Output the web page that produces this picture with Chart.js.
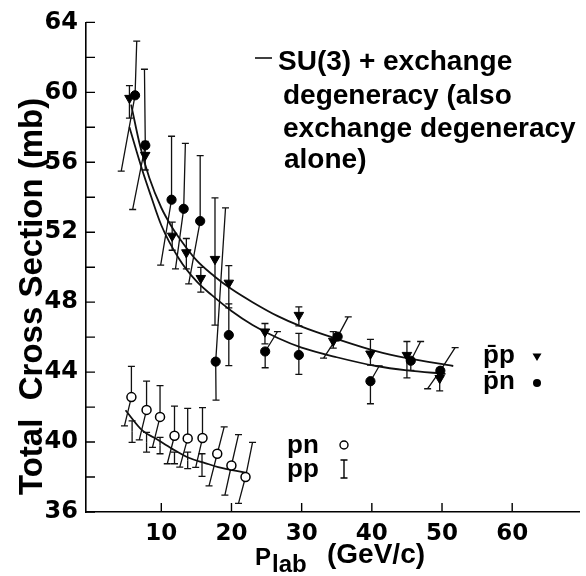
<!DOCTYPE html>
<html>
<head>
<meta charset="utf-8">
<script src="https://cdn.jsdelivr.net/npm/chart.js@4.4.0/dist/chart.umd.min.js"></script>
<style>
  html, body { margin: 0; padding: 0; background: #fff; }
  canvas { display: block; }
</style>
</head>
<body>
<canvas id="xsecChart" width="586" height="576"></canvas>
<script>
// pbar-p, filled triangles, vertical error bars
const pbarpX  = [5.46, 7.71, 11.55, 13.57, 15.63, 17.65, 19.62, 24.77, 29.6, 34.5, 39.8, 45.0, 49.67];
const pbarpY  = [59.67, 56.41, 51.79, 50.84, 49.37, 50.46, 49.1, 46.31, 47.26, 45.78, 45.05, 44.97, 43.65];
const pbarpLo = [58.53, 55.56, 50.97, 49.9, 48.58, 46.69, 47.67, 45.61, 46.65, 45.37, 44.4, 43.67, 42.93];
const pbarpHi = [60.38, 57.2, 52.58, 51.64, 49.99, 53.96, 50.09, 46.78, 47.73, 46.31, 45.87, 45.75, 44.23];

// pbar-n, filled circles; bar ends can lean (x,y of each end)
const pbarnX   = [6.26, 7.72, 11.46, 13.19, 15.54, 17.75, 19.62, 24.8, 29.6, 35.13, 39.8, 45.55, 49.76];
const pbarnY   = [59.83, 56.97, 53.86, 53.34, 52.64, 44.6, 46.12, 45.18, 44.98, 46.03, 43.48, 44.65, 44.08];
const pbarnLoX = [4.29, 5.92, 9.91, 12.02, 13.9, 17.8, 19.62, 24.8, 29.6, 33.12, 39.8, 45.55, 47.95];
const pbarnLoY = [55.5, 53.3, 50.12, 49.9, 49.05, 42.4, 44.37, 44.25, 43.87, 44.8, 42.19, 44.1, 43.05];
const pbarnHiX = [6.5, 7.6, 11.46, 13.43, 15.54, 19.15, 19.62, 26.55, 29.6, 36.64, 41.05, 46.95, 51.87];
const pbarnHiY = [62.93, 61.32, 57.49, 57.08, 56.38, 53.39, 47.9, 46.31, 46.22, 47.16, 44.35, 45.75, 45.4];

// pn, open circles
const pnX   = [5.74, 7.9, 9.82, 11.88, 13.76, 15.87, 17.97, 19.99, 22.0];
const pnY   = [42.57, 41.84, 41.44, 40.36, 40.21, 40.23, 39.33, 38.66, 38.0];
const pnLoX = [4.75, 6.86, 8.74, 10.85, 12.63, 14.9, 16.8, 19.06, 21.0];
const pnLoY = [40.93, 40.12, 39.7, 38.76, 38.57, 38.55, 37.49, 36.96, 36.49];
const pnHiX = [5.74, 7.9, 9.82, 11.88, 13.76, 15.87, 18.96, 21.0, 23.0];
const pnHiY = [44.33, 43.48, 43.23, 42.06, 41.93, 41.97, 40.87, 40.42, 39.98];

// pp, bare error bars
const ppX  = [5.84, 7.9, 9.82, 11.88, 13.76, 15.8];
const ppLo = [39.98, 39.42, 39.33, 38.76, 38.48, 38.04];
const ppHi = [41.21, 40.55, 40.27, 39.42, 39.42, 39.33];

// SU(3) + exchange degeneracy curves
const curveAX = [5.7, 7, 8.3, 10, 11.5, 12.5, 15, 17.5, 20, 23, 26.6, 30, 35, 40.6, 45, 51.6];
const curveAY = [59.3, 56.9, 55.1, 53.4, 52.3, 51.7, 50.4, 49.5, 48.75, 48.0, 47.2, 46.6, 45.9, 45.2, 44.8, 44.35];
const curveBX = [5.46, 7.33, 8.5, 10, 12.5, 15, 17.2, 20, 23, 26.6, 30, 35, 40.6, 45, 50.5];
const curveBY = [58.0, 55.5, 54.1, 52.4, 50.5, 49.2, 48.4, 47.5, 46.7, 45.95, 45.4, 44.85, 44.35, 44.1, 43.9];
const curveCX = [4.9, 7.33, 9.2, 11.55, 13.9, 16.24, 18.1, 22.0];
const curveCY = [41.82, 40.65, 40.2, 39.61, 39.1, 38.8, 38.57, 38.25];

const xTicks = [10, 20, 30, 40, 50, 60];

const pts = (xs, ys) => xs.map((v, i) => ({ x: v, y: ys[i] }));

const CAP = 3.5;
function bar(ctx, x0, y0, x1, y1) {
  ctx.beginPath();
  ctx.moveTo(x0, y0);
  ctx.lineTo(x1, y1);
  ctx.moveTo(x1 - CAP, y1);
  ctx.lineTo(x1 + CAP, y1);
  ctx.stroke();
}

const errorBars = {
  id: "errorBars",
  beforeDatasetsDraw(chart) {
    const { ctx, scales: { x, y } } = chart;
    ctx.save();
    ctx.strokeStyle = "#111";
    ctx.lineWidth = 1.3;
    pbarpX.forEach((v, i) => {
      const px = x.getPixelForValue(v), py = y.getPixelForValue(pbarpY[i]);
      bar(ctx, px, py, px, y.getPixelForValue(pbarpLo[i]));
      bar(ctx, px, py, px, y.getPixelForValue(pbarpHi[i]));
    });
    pbarnX.forEach((v, i) => {
      const px = x.getPixelForValue(v), py = y.getPixelForValue(pbarnY[i]);
      bar(ctx, px, py, x.getPixelForValue(pbarnLoX[i]), y.getPixelForValue(pbarnLoY[i]));
      bar(ctx, px, py, x.getPixelForValue(pbarnHiX[i]), y.getPixelForValue(pbarnHiY[i]));
    });
    pnX.forEach((v, i) => {
      const px = x.getPixelForValue(v), py = y.getPixelForValue(pnY[i]);
      bar(ctx, px, py, x.getPixelForValue(pnLoX[i]), y.getPixelForValue(pnLoY[i]));
      bar(ctx, px, py, x.getPixelForValue(pnHiX[i]), y.getPixelForValue(pnHiY[i]));
    });
    ppX.forEach((v, i) => {
      const px = x.getPixelForValue(v);
      const mid = y.getPixelForValue((ppLo[i] + ppHi[i]) / 2);
      bar(ctx, px, mid, px, y.getPixelForValue(ppLo[i]));
      bar(ctx, px, mid, px, y.getPixelForValue(ppHi[i]));
    });
    ctx.restore();
  },
};

// inward tick marks plus all the annotation text
const decorations = {
  id: "decorations",
  afterDraw(chart) {
    const { ctx, chartArea: a, scales: { x, y } } = chart;
    ctx.save();
    ctx.strokeStyle = "#000";
    ctx.lineWidth = 1.4;
    ctx.beginPath();
    y.ticks.forEach((t) => {
      const py = y.getPixelForValue(t.value);
      ctx.moveTo(a.left, py);
      ctx.lineTo(a.left + 9, py);
    });
    x.ticks.forEach((t) => {
      const px = x.getPixelForValue(t.value);
      ctx.moveTo(px, a.bottom);
      ctx.lineTo(px, a.bottom - 9);
    });
    ctx.stroke();

    ctx.fillStyle = "#000";
    ctx.textBaseline = "alphabetic";
    ctx.textAlign = "left";

    // y title
    ctx.save();
    ctx.translate(41.5, 495);
    ctx.rotate(-Math.PI / 2);
    ctx.font = 'bold 33px "Liberation Sans"';
    ctx.fillText("Total  Cross Section (mb)", 0, 0);
    ctx.restore();

    // x title
    ctx.font = 'bold 24px "Liberation Sans"';
    ctx.fillText("P", 255, 565);
    ctx.fillText("lab", 272, 572);
    ctx.font = 'bold 28px "Liberation Sans"';
    ctx.fillText("(GeV/c)", 327, 563);

    // curve key
    ctx.lineWidth = 1.5;
    ctx.beginPath();
    ctx.moveTo(255, 58);
    ctx.lineTo(272, 58);
    ctx.stroke();
    ctx.font = 'bold 28px "Liberation Sans"';
    ctx.fillText("SU(3) + exchange", 278, 70);
    ctx.fillText("degeneracy (also", 283, 104);
    ctx.fillText("exchange degeneracy", 283, 137);
    ctx.fillText("alone)", 284, 168);

    // symbol keys
    ctx.font = 'bold 26px "Liberation Sans"';
    ctx.fillText("p\u0304p", 483, 363);
    ctx.fillText("p\u0304n", 483, 389);
    ctx.fillText("pn", 287, 453);
    ctx.fillText("pp", 287, 477);

    ctx.beginPath();
    ctx.moveTo(532.5, 353.5);
    ctx.lineTo(541.5, 353.5);
    ctx.lineTo(537, 361);
    ctx.closePath();
    ctx.fill();
    ctx.beginPath();
    ctx.arc(537, 383, 4, 0, Math.PI * 2);
    ctx.fill();
    ctx.lineWidth = 1.4;
    ctx.beginPath();
    ctx.arc(344, 445, 4, 0, Math.PI * 2);
    ctx.stroke();
    ctx.beginPath();
    ctx.moveTo(344, 460); ctx.lineTo(344, 478);
    ctx.moveTo(340.5, 460); ctx.lineTo(347.5, 460);
    ctx.moveTo(340.5, 478); ctx.lineTo(347.5, 478);
    ctx.stroke();
    ctx.restore();
  },
};

const curveStyle = {
  type: "line",
  showLine: true,
  borderColor: "#111",
  borderWidth: 1.8,
  pointRadius: 0,
  fill: false,
  cubicInterpolationMode: "monotone",
};

const data = {
  datasets: [
    {
      label: "pbar p",
      data: pts(pbarpX, pbarpY),
      showLine: false,
      pointStyle: "triangle",
      rotation: 180,
      pointRadius: 5.5,
      pointBackgroundColor: "#000",
      pointBorderColor: "#000",
      pointBorderWidth: 1,
    },
    {
      label: "pbar n",
      data: pts(pbarnX, pbarnY),
      showLine: false,
      pointRadius: 4.6,
      pointBackgroundColor: "#000",
      pointBorderColor: "#000",
      pointBorderWidth: 1,
    },
    {
      label: "pn",
      data: pts(pnX, pnY),
      showLine: false,
      pointRadius: 4.5,
      pointBackgroundColor: "#fff",
      pointBorderColor: "#000",
      pointBorderWidth: 1.5,
    },
    { label: "curve A", data: pts(curveAX, curveAY), ...curveStyle },
    { label: "curve B", data: pts(curveBX, curveBY), ...curveStyle },
    { label: "curve C", data: pts(curveCX, curveCY), ...curveStyle },
  ],
};

const config = {
  type: "scatter",
  data: data,
  options: {
    responsive: false,
    animation: false,
    devicePixelRatio: 1,
    layout: { padding: { top: 18, right: 0, bottom: 0, left: 0 } },
    plugins: { legend: { display: false }, tooltip: { enabled: false } },
    scales: {
      x: {
        type: "linear",
        min: -0.73,
        max: 69.59,
        afterBuildTicks: (s) => { s.ticks = xTicks.map((v) => ({ value: v })); },
        afterFit: (s) => { s.height = 64; },
        grid: { display: true, drawOnChartArea: false, drawTicks: false },
        border: { display: true, color: "#000", width: 1.6 },
        ticks: {
          color: "#000",
          padding: 8,
          maxRotation: 0,
          font: { family: "DejaVu Sans", weight: "bold", size: 23 },
        },
      },
      y: {
        type: "linear",
        min: 36,
        max: 64,
        ticks: {
          stepSize: 2,
          color: "#000",
          padding: 8,
          callback: (v) => (v % 4 === 0 ? v : ""),
          font: { family: "DejaVu Sans", weight: "bold", size: 24 },
        },
        afterFit: (s) => { s.width = 86; },
        grid: { display: true, drawOnChartArea: false, drawTicks: false },
        border: { display: true, color: "#000", width: 1.6 },
      },
    },
  },
  plugins: [errorBars, decorations],
};

var xsec = document.getElementById("xsecChart").getContext("2d");
var chart = new Chart(xsec, config);
</script>
</body>
</html>
